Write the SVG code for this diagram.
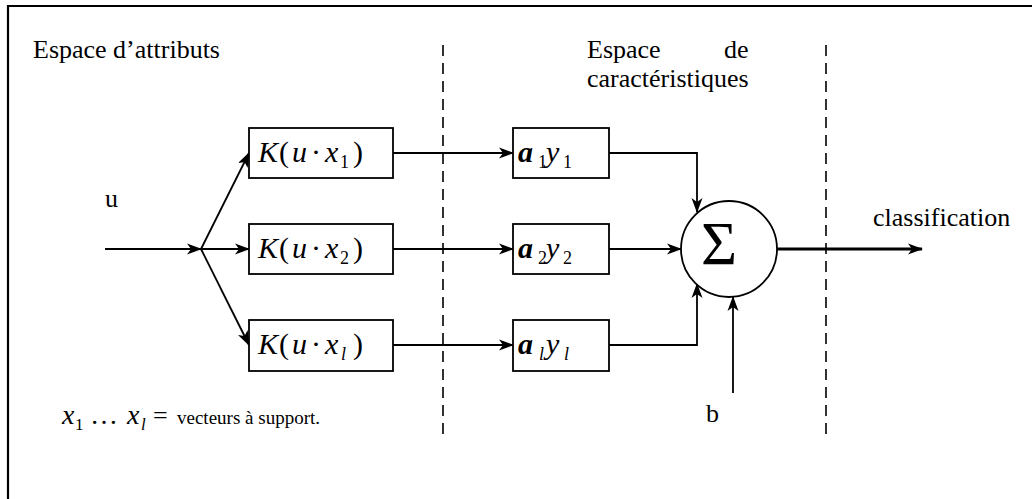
<svg xmlns="http://www.w3.org/2000/svg" width="1032" height="499" viewBox="0 0 1032 499">
<style>
text{font-family:"Liberation Serif","Times New Roman",serif;fill:#000}
.lbl{font-size:26px}
.m{font-size:30px}
.it{font-style:italic}
.sub{font-size:18px}
.box{fill:#fff;stroke:#000;stroke-width:1.8}
.ln{fill:none;stroke:#000;stroke-width:1.8}
.dash{fill:none;stroke:#000;stroke-width:1.6;stroke-dasharray:11 7}
</style>
<defs>
<marker id="ah" markerUnits="userSpaceOnUse" markerWidth="15" markerHeight="12" refX="14" refY="6" orient="auto">
<path d="M0,0.5 L15,6 L0,11.5 L4,6 z" fill="#000"/>
</marker>
</defs>
<rect width="1032" height="499" fill="#fff"/>
<path d="M8,499 V6 H1032" fill="none" stroke="#000" stroke-width="2.2"/>
<text class="lbl" x="33" y="58">Espace d’attributs</text>
<text class="lbl" x="587" y="58">Espace</text>
<text class="lbl" x="724" y="58">de</text>
<text class="lbl" x="587" y="87">caractéristiques</text>
<g id="separators">
<line class="dash" x1="443" y1="45" x2="443" y2="440"/>
<line class="dash" x1="826" y1="45" x2="826" y2="440"/>
</g>
<g id="connectors">
<line class="ln" x1="105" y1="249" x2="201" y2="249" marker-end="url(#ah)"/>
<line class="ln" x1="201" y1="249" x2="249" y2="153" marker-end="url(#ah)"/>
<line class="ln" x1="201" y1="249" x2="249" y2="249" marker-end="url(#ah)"/>
<line class="ln" x1="201" y1="249" x2="249" y2="345" marker-end="url(#ah)"/>
<line class="ln" x1="393" y1="153" x2="513" y2="153" marker-end="url(#ah)"/>
<line class="ln" x1="393" y1="249" x2="513" y2="249" marker-end="url(#ah)"/>
<line class="ln" x1="393" y1="345" x2="513" y2="345" marker-end="url(#ah)"/>
<polyline class="ln" points="609,153 697,153 697,212" marker-end="url(#ah)"/>
<line class="ln" x1="609" y1="249" x2="681" y2="249" marker-end="url(#ah)"/>
<polyline class="ln" points="609,345 697,345 697,284" marker-end="url(#ah)"/>
<line class="ln" x1="733" y1="393" x2="733" y2="297" marker-end="url(#ah)"/>
<line x1="777" y1="249" x2="922" y2="249" stroke="#000" stroke-width="3.2" marker-end="url(#ah)"/>
</g>
<g id="input-u"><text class="lbl" x="105" y="207">u</text></g>
<g id="k1"><rect class="box" x="249" y="128" width="144" height="50"/>
<text class="m" y="162"><tspan class="it" x="258">K</tspan><tspan x="279">(</tspan><tspan class="it" x="292">u</tspan><tspan x="311">·</tspan><tspan class="it" x="325">x</tspan><tspan class="sub" x="340" y="168">1</tspan><tspan x="353" y="162">)</tspan></text></g>
<g id="k2"><rect class="box" x="249" y="224" width="144" height="50"/>
<text class="m" y="258"><tspan class="it" x="258">K</tspan><tspan x="279">(</tspan><tspan class="it" x="292">u</tspan><tspan x="311">·</tspan><tspan class="it" x="325">x</tspan><tspan class="sub" x="340" y="264">2</tspan><tspan x="353" y="258">)</tspan></text></g>
<g id="kl"><rect class="box" x="249" y="320" width="144" height="51"/>
<text class="m" y="354"><tspan class="it" x="258">K</tspan><tspan x="279">(</tspan><tspan class="it" x="292">u</tspan><tspan x="311">·</tspan><tspan class="it" x="325">x</tspan><tspan class="sub it" x="341" y="360">l</tspan><tspan x="353" y="354">)</tspan></text></g>
<g id="a1"><rect class="box" x="513" y="128" width="96" height="50"/>
<text class="m" y="162"><tspan font-weight="bold" class="it" x="518">a</tspan><tspan class="sub" x="538" y="168">1</tspan><tspan class="it" x="546" y="162">y</tspan><tspan class="sub" x="563" y="168">1</tspan></text></g>
<g id="a2"><rect class="box" x="513" y="224" width="96" height="50"/>
<text class="m" y="258"><tspan font-weight="bold" class="it" x="518">a</tspan><tspan class="sub" x="538" y="264">2</tspan><tspan class="it" x="546" y="258">y</tspan><tspan class="sub" x="563" y="264">2</tspan></text></g>
<g id="al"><rect class="box" x="513" y="320" width="96" height="51"/>
<text class="m" y="354"><tspan font-weight="bold" class="it" x="518">a</tspan><tspan class="sub it" x="539" y="360">l</tspan><tspan class="it" x="546" y="354">y</tspan><tspan class="sub it" x="564" y="360">l</tspan></text></g>
<g id="sum"><circle cx="729" cy="249" r="48" fill="#fff" stroke="#000" stroke-width="1.8"/>
<text x="701" y="264" font-size="62">Σ</text></g>
<g id="bias"><text class="lbl" x="706" y="422">b</text></g>
<g id="output"><text class="lbl" x="873" y="226">classification</text></g>
<g id="legend"><text y="424"><tspan class="it" font-size="28" x="62">x</tspan><tspan font-size="17" x="75" y="430">1</tspan><tspan font-size="28" x="90" y="424">…</tspan><tspan class="it" font-size="28" x="127">x</tspan><tspan class="it" font-size="17" x="141" y="430">l</tspan><tspan font-size="26" x="153" y="424">=</tspan><tspan font-size="19" x="177" y="424">vecteurs à support.</tspan></text></g>
</svg>
